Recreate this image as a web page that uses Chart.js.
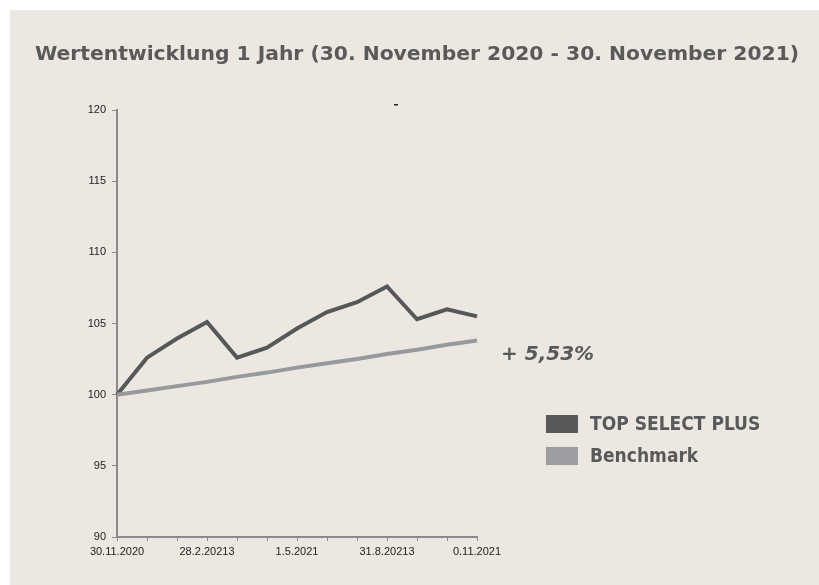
<!DOCTYPE html>
<html>
<head>
<meta charset="utf-8">
<script src="https://cdn.jsdelivr.net/npm/chart.js@4.4.1/dist/chart.umd.min.js"></script>
<style>
  html, body { margin: 0; padding: 0; background: #ffffff; }
  #wrap { position: absolute; left: 10px; top: 10px; width: 809px; height: 575px; background: #ece8e1; }
</style>
</head>
<body>
<div id="wrap"><canvas id="perfChart" width="809" height="575"></canvas></div>
<script>
// monthly points, 30.11.2020 - 30.11.2021
const months = ['30.11.2020', '', '', '28.2.20213', '', '', '1.5.2021', '', '', '31.8.20213', '', '', '0.11.2021'];
const topSelectPlus = [100, 102.6, 103.95, 105.1, 102.6, 103.3, 104.65, 105.8, 106.5, 107.6, 105.3, 106.0, 105.5];
const benchmark = [100, 100.3, 100.6, 100.9, 101.25, 101.55, 101.9, 102.2, 102.5, 102.85, 103.15, 103.5, 103.8];
const yTicks = [90, 95, 100, 105, 110, 115, 120];

const titleText = 'Wertentwicklung 1 Jahr (30. November 2020 - 30. November 2021)';
const performanceLabel = '+ 5,53%';
const legendItems = [
  { label: 'TOP SELECT PLUS', color: '#58595b' },
  { label: 'Benchmark', color: '#9c9da1' }
];

Chart.defaults.font.family = "'Liberation Sans', Arial, sans-serif";
Chart.defaults.color = '#222222';

// title, legend and the annotation are drawn by hand
const extras = {
  id: 'extras',
  afterDraw(chart) {
    const ctx = chart.ctx;
    ctx.save();
    ctx.fillStyle = '#5a5a5a';
    ctx.textAlign = 'center';
    ctx.textBaseline = 'alphabetic';
    ctx.font = "bold 20.3px 'DejaVu Sans'";
    ctx.fillText(titleText, 407, 50);

    ctx.textAlign = 'left';
    ctx.font = "italic bold 20px 'DejaVu Sans'";
    ctx.fillStyle = '#58595b';
    ctx.fillText(performanceLabel, 491, 350);

    ctx.font = "bold 19px 'DejaVu Sans Condensed', 'DejaVu Sans'";
    ctx.textBaseline = 'middle';
    legendItems.forEach((item, i) => {
      const y = 405 + i * 32;
      ctx.fillStyle = item.color;
      ctx.fillRect(536, y, 32, 18);
      ctx.fillStyle = '#58595b';
      ctx.fillText(item.label, 580, y + 10);
    });

    ctx.fillStyle = '#222222';
    ctx.fillRect(384, 94, 4, 1.5);
    ctx.restore();
  }
};

const lineData = {
  labels: months,
  datasets: [
    {
      label: 'TOP SELECT PLUS',
      data: topSelectPlus,
      borderColor: '#555759',
      borderWidth: 4,
      pointRadius: 0,
      tension: 0,
      order: 2
    },
    {
      label: 'Benchmark',
      data: benchmark,
      borderColor: '#98999d',
      borderWidth: 4,
      pointRadius: 0,
      tension: 0,
      order: 1
    }
  ]
};

const lineConfig = {
  type: 'line',
  data: lineData,
  options: {
    responsive: false,
    animation: false,
    layout: { padding: { left: 0, right: 342, top: 100, bottom: 18 } },
    plugins: {
      legend: { display: false },
      title: { display: false },
      tooltip: { enabled: false }
    },
    scales: {
      x: {
        offset: false,
        afterFit(scale) { scale.height = 30; },
        grid: { display: true, drawOnChartArea: false, drawTicks: true, tickLength: 4, color: '#8a8a8a' },
        border: { color: '#8a8a8a', width: 2 },
        ticks: { autoSkip: false, maxRotation: 0, padding: 4, font: { size: 11 }, color: '#222222' }
      },
      y: {
        min: 90,
        max: 120,
        afterFit(scale) { scale.width = 107; },
        afterBuildTicks(scale) { scale.ticks = yTicks.map(v => ({ value: v })); },
        grid: { display: true, drawOnChartArea: false, drawTicks: true, tickLength: 5, color: '#8a8a8a' },
        border: { color: '#8a8a8a', width: 2 },
        ticks: { padding: 6, font: { size: 11 }, color: '#222222' }
      }
    }
  },
  plugins: [extras]
};

const perfChart = new Chart(document.getElementById('perfChart'), lineConfig);
</script>
</body>
</html>
